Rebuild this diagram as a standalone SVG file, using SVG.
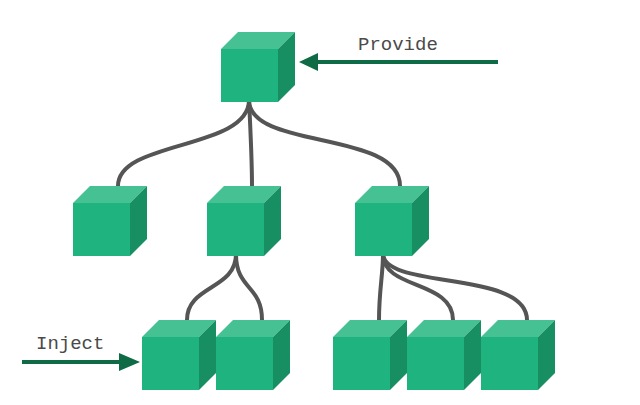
<svg xmlns="http://www.w3.org/2000/svg" xmlns:xlink="http://www.w3.org/1999/xlink" width="640" height="405" viewBox="0 0 640 405">
<style>
.front{fill:#1fb47f}
.top{fill:#45c194}
.side{fill:#178f63}
.link{fill:none;stroke:#555555;stroke-width:4;stroke-linecap:round}
.arrow{stroke:#0f6b45;stroke-width:4;fill:none}
.head{fill:#0f6b45}
.label{font-family:"Liberation Mono","DejaVu Sans Mono",monospace;font-size:19px;fill:#4a4a4a}
</style>
<defs>
<g id="cube">
<polygon class="top" points="0,0 17,-17 74,-17 57,0"/>
<polygon class="side" points="57,0 74,-17 74,36 57,53"/>
<rect class="front" x="0" y="0" width="57" height="53"/>
</g>
</defs>
<rect width="640" height="405" fill="#ffffff"/>
<g id="connectors">
<path class="link" d="M249,100 C249,150 118,140 118,186"/>
<path class="link" d="M249,100 C251,140 252,160 252,186"/>
<path class="link" d="M249,100 C249,150 400,130 400,186"/>
<path class="link" d="M236,254 C236,290 187,285 187,320"/>
<path class="link" d="M236,254 C236,290 262,285 262,320"/>
<path class="link" d="M383,254 C383,275 379,290 379,320"/>
<path class="link" d="M383,254 C383,290 453,280 453,320"/>
<path class="link" d="M383,254 C385,290 527,270 527,320"/>
<line class="arrow" x1="498" y1="62" x2="314" y2="62"/>
<polygon class="head" points="299,62 318,53 318,71"/>
<line class="arrow" x1="22" y1="362" x2="124" y2="362"/>
<polygon class="head" points="140,362 119,353 119,371"/>
</g>
<g id="root"><use xlink:href="#cube" x="221" y="49"/></g>
<g id="child1"><use xlink:href="#cube" x="73" y="203"/></g>
<g id="child2"><use xlink:href="#cube" x="207" y="203"/></g>
<g id="child3"><use xlink:href="#cube" x="355" y="203"/></g>
<g id="leaf1"><use xlink:href="#cube" x="142" y="337"/></g>
<g id="leaf2"><use xlink:href="#cube" x="216" y="337"/></g>
<g id="leaf3"><use xlink:href="#cube" x="333" y="337"/></g>
<g id="leaf4"><use xlink:href="#cube" x="407" y="337"/></g>
<g id="leaf5"><use xlink:href="#cube" x="481" y="337"/></g>
<g id="provide-label"><text class="label" x="358" y="50">Provide</text></g>
<g id="inject-label"><text class="label" x="36" y="349">Inject</text></g>
</svg>
